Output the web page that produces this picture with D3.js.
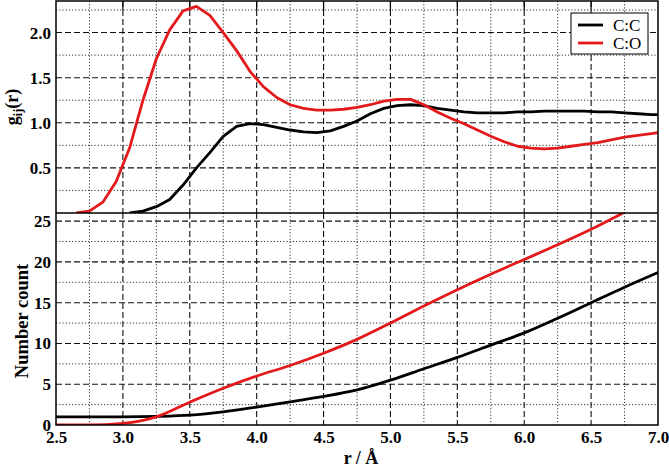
<!DOCTYPE html>
<html>
<head>
<meta charset="utf-8">
<script src="https://cdn.jsdelivr.net/npm/d3@7"></script>
<style>
  body { margin: 0; background: #fff; }
  text { font-family: "Liberation Serif", "Times New Roman", serif; }
</style>
</head>
<body>
<div id="chart"></div>
<script>
// --- data ---
var rTop = [2.65, 2.75, 2.85, 2.95, 3.05, 3.15, 3.25, 3.35, 3.45, 3.55, 3.65, 3.75, 3.85, 3.95,
            4.05, 4.15, 4.25, 4.35, 4.45, 4.55, 4.65, 4.75, 4.85, 4.95, 5.05, 5.15, 5.25, 5.35,
            5.45, 5.55, 5.65, 5.75, 5.85, 5.95, 6.05, 6.15, 6.25, 6.35, 6.45, 6.55, 6.65, 6.75,
            6.85, 6.95, 7.05];
var gCC = [null, null, null, null, 0.0, 0.02, 0.07, 0.15, 0.31, 0.5, 0.67, 0.85, 0.96, 0.99,
           0.98, 0.95, 0.92, 0.9, 0.89, 0.91, 0.96, 1.02, 1.1, 1.16, 1.19, 1.2, 1.19, 1.16,
           1.14, 1.12, 1.11, 1.11, 1.11, 1.12, 1.12, 1.13, 1.13, 1.13, 1.13, 1.12, 1.12, 1.11,
           1.1, 1.09, 1.09];
var gCO = [0.0, 0.02, 0.12, 0.35, 0.72, 1.25, 1.71, 2.03, 2.24, 2.29, 2.19, 2.0, 1.8, 1.57,
           1.4, 1.28, 1.2, 1.16, 1.14, 1.14, 1.15, 1.17, 1.2, 1.24, 1.26, 1.26, 1.2, 1.12,
           1.05, 0.99, 0.92, 0.85, 0.79, 0.74, 0.72, 0.71, 0.72, 0.74, 0.76, 0.78, 0.81, 0.84,
           0.86, 0.88, 0.9];

var rBot = [2.5, 2.75, 3.0, 3.25, 3.5, 3.75, 4.0, 4.25, 4.5, 4.75, 5.0, 5.25, 5.5, 5.75,
            6.0, 6.25, 6.5, 6.75, 7.0];
var nCC = [1.0, 1.0, 1.0, 1.05, 1.2, 1.6, 2.2, 2.85, 3.5, 4.3, 5.5, 6.9, 8.3, 9.8,
           11.3, 13.1, 15.0, 16.9, 18.7];
var nCO = [0.0, 0.0, 0.2, 1.0, 2.8, 4.5, 6.0, 7.3, 8.8, 10.5, 12.5, 14.6, 16.6, 18.5,
           20.3, 22.1, 24.0, 26.1, null];

var xTicks = [2.5, 3.0, 3.5, 4.0, 4.5, 5.0, 5.5, 6.0, 6.5, 7.0];
var xMinor = [2.75, 3.25, 3.75, 4.25, 4.75, 5.25, 5.75, 6.25, 6.75];
var gTicks = [0.5, 1.0, 1.5, 2.0];
var gMinor = [0.25, 0.75, 1.25, 1.75, 2.25];
var nTicks = [0, 5, 10, 15, 20, 25];
var nMinor = [2.5, 7.5, 12.5, 17.5, 22.5];

var seriesNames = ["C:C", "C:O"];
var seriesColors = ["#000000", "#e31a1c"];

// --- layout ---
var W = 669, H = 469;
var plotL = 56, plotR = 658, plotT = 1, split = 213, plotB = 425;

var svg = d3.select("#chart").append("svg")
    .attr("width", W)
    .attr("height", H);

var x = d3.scaleLinear().domain([2.5, 7.0]).range([plotL, plotR]);
var yTop = d3.scaleLinear().domain([0, 2.35]).range([split, plotT]);
var yBot = d3.scaleLinear().domain([0, 26]).range([plotB, split]);

// clip paths for each panel
var defs = svg.append("defs");
defs.append("clipPath").attr("id", "clipTop")
  .append("rect").attr("x", plotL).attr("y", plotT).attr("width", plotR - plotL).attr("height", split - plotT);
defs.append("clipPath").attr("id", "clipBot")
  .append("rect").attr("x", plotL).attr("y", split).attr("width", plotR - plotL).attr("height", plotB - split);

// grid helper
function grid(yScale, majors, minors, y0, y1) {
  var g = svg.append("g");
  // minor dotted
  g.selectAll(".vmin").data(xMinor).enter().append("line")
    .attr("x1", d => x(d)).attr("x2", d => x(d))
    .attr("y1", y0).attr("y2", y1)
    .attr("stroke", "#333").attr("stroke-width", 1).attr("stroke-dasharray", "1.2,2");
  g.selectAll(".hmin").data(minors).enter().append("line")
    .attr("x1", plotL).attr("x2", plotR)
    .attr("y1", d => yScale(d)).attr("y2", d => yScale(d))
    .attr("stroke", "#333").attr("stroke-width", 1).attr("stroke-dasharray", "1.2,2");
  // major dashed
  g.selectAll(".vmaj").data(xTicks.slice(1, -1)).enter().append("line")
    .attr("x1", d => x(d)).attr("x2", d => x(d))
    .attr("y1", y0).attr("y2", y1)
    .attr("stroke", "#111").attr("stroke-width", 1.1).attr("stroke-dasharray", "6,3");
  g.selectAll(".hmaj").data(majors).enter().append("line")
    .attr("x1", plotL).attr("x2", plotR)
    .attr("y1", d => yScale(d)).attr("y2", d => yScale(d))
    .attr("stroke", "#111").attr("stroke-width", 1.1).attr("stroke-dasharray", "6,3");
}
grid(yTop, gTicks, gMinor, plotT, split);
grid(yBot, nTicks.filter(d => d > 0), nMinor, split, plotB);

// top inner ticks
svg.append("g").selectAll("line").data(xTicks.slice(1, -1)).enter().append("line")
  .attr("x1", d => x(d)).attr("x2", d => x(d))
  .attr("y1", plotT).attr("y2", plotT + 9)
  .attr("stroke", "#000").attr("stroke-width", 1.2);

// lines
var lineTop = d3.line()
  .defined(d => d[1] != null)
  .x(d => x(d[0])).y(d => yTop(d[1]))
  .curve(d3.curveLinear);
var lineBot = d3.line()
  .defined(d => d[1] != null)
  .x(d => x(d[0])).y(d => yBot(d[1]))
  .curve(d3.curveMonotoneX);

var topSeries = [gCC, gCO];
var botSeries = [nCC, nCO];

svg.append("g").attr("clip-path", "url(#clipTop)")
  .selectAll("path").data(topSeries).enter().append("path")
  .attr("d", (s) => lineTop(rTop.map((r, i) => [r, s[i]])))
  .attr("fill", "none")
  .attr("stroke", (d, i) => seriesColors[i])
  .attr("stroke-width", 2.8)
  .attr("stroke-linejoin", "round");

svg.append("g").attr("clip-path", "url(#clipBot)")
  .selectAll("path").data(botSeries).enter().append("path")
  .attr("d", (s) => lineBot(rBot.map((r, i) => [r, s[i]])))
  .attr("fill", "none")
  .attr("stroke", (d, i) => seriesColors[i])
  .attr("stroke-width", 2.8)
  .attr("stroke-linejoin", "round");

// frame + divider
svg.append("rect")
  .attr("x", plotL).attr("y", plotT)
  .attr("width", plotR - plotL).attr("height", plotB - plotT)
  .attr("fill", "none").attr("stroke", "#000").attr("stroke-width", 1.5);
svg.append("line")
  .attr("x1", plotL).attr("x2", plotR).attr("y1", split).attr("y2", split)
  .attr("stroke", "#000").attr("stroke-width", 1.5);

// axes
function styleAxis(g) {
  g.select(".domain").remove();
  g.selectAll(".tick line").remove();
  g.selectAll("text")
    .style("font-family", '"Liberation Serif", serif')
    .style("font-weight", "bold")
    .style("font-size", "17px")
    .attr("fill", "#000");
}
svg.append("g")
  .attr("transform", "translate(0," + plotB + ")")
  .call(d3.axisBottom(x).tickValues(xTicks).tickFormat(d3.format(".1f")).tickSize(0).tickPadding(6))
  .call(styleAxis);
svg.append("g")
  .attr("transform", "translate(" + plotL + ",0)")
  .call(d3.axisLeft(yTop).tickValues(gTicks).tickFormat(d3.format(".1f")).tickSize(0).tickPadding(5))
  .call(styleAxis);
svg.append("g")
  .attr("transform", "translate(" + plotL + ",0)")
  .call(d3.axisLeft(yBot).tickValues(nTicks).tickFormat(d3.format("d")).tickSize(0).tickPadding(5))
  .call(styleAxis);

// axis titles
svg.append("text")
  .attr("x", (plotL + plotR) / 2 + 4).attr("y", 464)
  .attr("text-anchor", "middle")
  .style("font-weight", "bold").style("font-size", "18px")
  .text("r / Å");

var gl = svg.append("text")
  .attr("transform", "translate(18," + ((plotT + split) / 2) + ") rotate(-90)")
  .attr("text-anchor", "middle")
  .style("font-weight", "bold").style("font-size", "18px");
gl.append("tspan").text("g");
gl.append("tspan").attr("dy", 4).style("font-size", "12px").text("ij");
gl.append("tspan").attr("dy", -4).text("(r)");

svg.append("text")
  .attr("transform", "translate(28," + ((split + plotB) / 2 + 2) + ") rotate(-90)")
  .attr("text-anchor", "middle")
  .style("font-weight", "bold").style("font-size", "18.5px")
  .text("Number count");

// legend
var leg = svg.append("g").attr("transform", "translate(571,13)");
leg.append("rect")
  .attr("width", 77).attr("height", 41)
  .attr("fill", "#fff").attr("stroke", "#000").attr("stroke-width", 1);
leg.selectAll(".li").data(seriesNames).enter().append("line")
  .attr("x1", 7).attr("x2", 32)
  .attr("y1", (d, i) => 12 + i * 18).attr("y2", (d, i) => 12 + i * 18)
  .attr("stroke", (d, i) => seriesColors[i]).attr("stroke-width", 2.8);
leg.selectAll(".lt").data(seriesNames).enter().append("text")
  .attr("x", 42)
  .attr("y", (d, i) => 17.5 + i * 18)
  .style("font-size", "17px")
  .text(d => d);
</script>
</body>
</html>
